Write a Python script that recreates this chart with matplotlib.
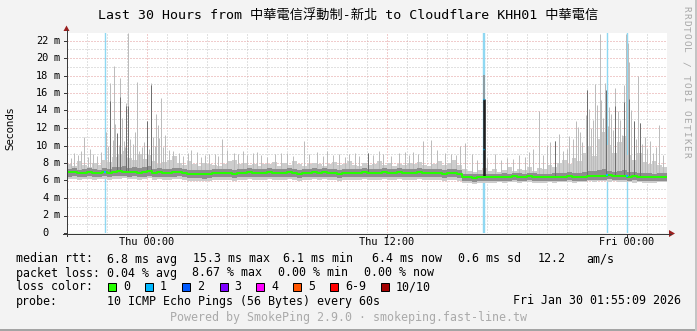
import matplotlib
matplotlib.use('Agg')
import matplotlib.pyplot as plt
import numpy as np
from matplotlib.patches import Polygon, Rectangle
from matplotlib.lines import Line2D

# ---------------- data ----------------
step_h = 0.25  # each sample covers 15 minutes, 30 hours shown
median = [6.95,7.0,6.85,6.9,6.95,6.9,6.85,6.95,6.9,7.0,
          7.05,7.0,6.95,7.0,6.9,6.95,7.05,6.9,6.95,6.85,
          6.9,6.95,7.0,6.85,6.8,6.75,6.8,6.7,6.75,6.85,
          6.9,6.85,6.9,6.8,6.85,6.9,6.95,6.9,6.85,6.9,
          6.95,6.9,6.85,6.9,6.95,6.9,6.8,6.85,6.9,6.95,
          6.9,6.95,6.85,6.9,6.8,6.85,6.9,6.85,6.9,6.95,
          6.9,6.85,6.9,6.95,6.85,6.9,6.95,6.9,6.85,6.9,
          6.95,6.9,6.85,6.9,6.85,6.8,6.85,6.9,6.8,6.4,
          6.35,6.3,6.35,6.4,6.4,6.35,6.4,6.45,6.4,6.5,
          6.45,6.4,6.5,6.45,6.4,6.35,6.4,6.45,6.4,6.45,
          6.5,6.45,6.4,6.45,6.5,6.55,6.5,6.55,6.6,6.5,
          6.55,6.5,6.45,6.5,6.4,6.45,6.4,6.35,6.4,6.45]
smoke_lo = [6.15,6.2,6.1,6.2,6.15,6.1,6.2,6.15,6.1,6.2,
            6.2,6.25,6.15,6.2,6.1,6.15,6.25,6.1,6.15,6.05,
            6.1,6.15,6.2,6.05,6.0,5.95,6.0,5.9,5.95,6.05,
            6.1,6.05,6.1,6.0,6.05,6.1,6.15,6.1,6.05,6.1,
            6.15,6.1,6.05,6.1,6.15,6.1,6.0,6.05,6.1,6.15,
            6.1,6.15,6.05,6.1,6.0,6.05,6.1,6.05,6.1,6.15,
            6.1,6.05,6.1,6.15,6.05,6.1,6.15,6.1,6.05,6.1,
            6.15,6.1,6.05,6.1,6.05,6.0,6.05,6.1,6.0,5.75,
            5.7,5.65,5.7,5.75,5.7,5.75,5.8,5.75,5.85,5.8,
            5.75,5.85,5.8,5.75,5.7,5.75,5.8,5.75,5.8,5.85,
            5.8,5.75,5.8,5.85,5.9,5.85,5.9,5.95,5.85,5.9,
            5.85,5.8,5.85,5.75,5.8,5.75,5.7,5.75,5.8,5.8]
smoke_hi = [7.9,7.7,8.2,7.8,7.6,8.0,7.8,8.3,8.1,8.7,
            9.0,9.4,8.6,8.3,9.0,8.5,8.9,8.2,7.9,8.1,
            8.4,8.8,8.0,7.8,8.2,7.9,7.7,8.0,7.9,7.8,
            7.7,7.9,8.2,8.4,7.9,8.0,7.8,7.9,7.7,7.9,
            7.9,8.1,7.7,8.0,7.8,8.2,7.9,7.7,7.9,8.0,
            7.9,7.7,7.9,8.1,7.8,7.9,8.2,7.8,7.7,8.0,
            7.8,7.9,8.2,7.8,8.0,7.7,7.9,7.8,8.0,7.9,
            8.1,7.8,7.7,7.9,8.2,7.8,8.0,8.3,7.8,7.3,
            7.1,7.0,7.2,7.4,7.1,7.3,7.0,7.2,7.5,7.1,
            7.3,7.2,7.6,7.1,7.4,7.3,7.8,7.5,8.0,8.3,
            7.9,8.6,8.2,9.2,10.0,8.8,10.8,11.6,10.1,9.1,
            10.4,11.1,8.9,8.4,9.2,8.1,7.9,8.2,7.8,7.6]
dark_lo = [6.45,6.5,6.4,6.45,6.5,6.4,6.4,6.5,6.45,6.5,
           6.55,6.5,6.45,6.5,6.4,6.45,6.55,6.4,6.45,6.35,
           6.4,6.45,6.5,6.35,6.3,6.25,6.3,6.2,6.25,6.35,
           6.4,6.35,6.4,6.3,6.35,6.4,6.45,6.4,6.35,6.4,
           6.45,6.4,6.35,6.4,6.45,6.4,6.3,6.35,6.4,6.45,
           6.4,6.45,6.35,6.4,6.3,6.35,6.4,6.35,6.4,6.45,
           6.4,6.35,6.4,6.45,6.35,6.4,6.45,6.4,6.35,6.4,
           6.45,6.4,6.35,6.4,6.35,6.3,6.35,6.4,6.3,5.95,
           5.9,5.85,5.9,5.95,5.95,5.9,5.95,6.0,5.95,6.05,
           6.0,5.95,6.05,6.0,5.95,5.9,5.95,6.0,5.95,6.0,
           6.05,6.0,5.95,6.0,6.05,6.1,6.05,6.1,6.15,6.05,
           6.1,6.05,6.0,6.05,5.95,6.0,5.95,5.9,5.95,6.0]
dark_hi = [7.35,7.4,7.25,7.3,7.4,7.3,7.25,7.4,7.35,7.5,
           7.6,7.7,7.45,7.5,7.4,7.5,7.65,7.35,7.4,7.3,
           7.35,7.4,7.45,7.3,7.25,7.2,7.25,7.15,7.2,7.3,
           7.3,7.3,7.35,7.25,7.3,7.35,7.4,7.3,7.3,7.35,
           7.4,7.35,7.3,7.35,7.4,7.35,7.25,7.3,7.35,7.4,
           7.35,7.4,7.3,7.35,7.25,7.3,7.35,7.3,7.35,7.4,
           7.35,7.3,7.35,7.4,7.3,7.35,7.4,7.35,7.3,7.35,
           7.4,7.35,7.3,7.35,7.3,7.25,7.3,7.35,7.25,6.8,
           6.75,6.7,6.75,6.8,6.8,6.75,6.8,6.85,6.8,6.9,
           6.85,6.8,6.9,6.85,6.8,6.75,6.8,6.9,6.85,6.9,
           6.95,6.9,6.85,6.95,7.1,7.05,7.2,7.3,7.1,6.95,
           7.1,7.2,6.95,6.95,6.85,6.9,6.85,6.8,6.85,6.9]

# single-ping outliers (hour from start, ms)
light_spike_hours = [0.2,0.35,0.55,0.7,0.87,1.05,1.15,1.3,1.5,1.7,1.97,2.05,2.17,2.3,2.37,
                     2.42,2.5,2.6,2.67,2.75,2.85,2.9,2.97,3.05,3.15,3.3,3.4,3.52,3.6,3.75,
                     3.85,4.0,4.1,4.22,4.3,4.4,4.45,4.53,4.6,4.72,4.8,4.9,5.1,5.3,5.6,5.8,
                     6.05,6.2,6.5,6.7,6.9,7.1,7.4,7.55,7.75,8.0,8.35,8.55,8.8,9.0,9.28,9.5,
                     9.7,10.0,10.4,10.7,11.0,11.3,11.87,12.1,12.5,12.8,13.0,13.3,13.6,13.9,
                     14.1,14.4,14.6,15.05,15.3,15.6,15.8,16.2,16.6,16.9,17.1,17.3,17.55,
                     17.8,18.2,18.5,18.9,19.2,19.45,19.67,19.9,20.25,20.5,21.0,21.4,21.7,
                     22.0,22.3,22.6,22.9,23.1,23.3,23.6,23.8,24.0,24.15,24.4,24.6,24.8,
                     25.0,25.1,25.3,25.45,25.55,25.65,25.75,25.93,26.0,26.1,26.2,26.3,26.4,
                     26.5,26.65,26.7,26.8,26.9,27.05,27.1,27.2,27.3,27.4,27.55,27.65,27.75,
                     27.85,27.97,28.05,28.1,28.2,28.35,28.45,28.55,28.65,28.75,28.9,29.0,
                     29.15,29.3,29.45,29.6,29.8]
light_spike_ms = [8.6,9.1,8.9,9.4,11.0,8.7,9.6,9.0,8.8,9.3,11.6,9.9,17.1,10.6,19.1,
                  12.5,11.3,10.1,17.7,13.2,10.5,9.8,14.9,22.9,10.8,10.2,11.6,17.3,9.4,9.8,
                  10.4,12.8,9.6,17.1,11.0,10.0,13.6,12.4,10.9,15.4,9.8,11.2,9.5,9.4,9.2,8.8,
                  9.1,9.5,9.3,8.7,8.9,9.0,9.0,8.8,10.7,9.5,9.2,9.0,9.4,8.9,9.2,9.3,
                  8.9,8.7,9.0,9.1,9.1,8.8,10.5,9.0,9.3,8.8,9.4,8.9,9.0,8.7,
                  9.0,9.2,8.8,9.1,8.9,9.4,9.0,8.8,9.1,9.3,8.9,9.3,9.0,
                  10.5,10.6,9.5,9.2,9.0,8.9,10.0,10.3,9.0,8.4,8.6,9.0,8.3,
                  8.6,8.5,8.9,8.7,9.3,9.6,13.9,8.9,10.1,10.4,10.5,11.3,9.4,
                  9.6,11.1,10.8,12.8,12.1,11.5,10.4,13.5,16.3,14.2,12.0,12.9,17.0,
                  14.6,22.8,15.2,13.1,17.1,12.2,14.4,13.6,11.8,16.6,13.9,12.9,11.2,
                  16.9,22.7,21.7,19.6,14.1,12.8,10.8,17.9,12.6,10.2,11.0,9.6,
                  10.5,9.1,9.8,12.4,8.9]
dark_spike_hours = [2.17,2.5,2.67,2.97,3.05,4.0,4.22,15.05,24.4,26.0,26.95,27.4,27.85,28.12,28.35,28.65]
dark_spike_ms = [15.1,11.4,15.6,14.5,14.5,12.8,16.9,9.1,10.5,16.3,16.4,14.5,15.0,15.3,12.8,12.6]

# loss events (1 of 10 pings lost)
loss_hours = [1.92, 20.80, 20.86, 27.0, 27.98]
burst_hour = [20.83]
burst_mid = [9.6]
burst_median = [15.3]
burst_top = [18.1]

loss_labels = ['0', '1', '2', '3', '4', '5', '6-9', '10/10']
loss_colors = ['#26ff00', '#00b8ff', '#0059ff', '#7e00ff', '#ff00ff', '#ff5500', '#ff0000', '#a10000']

yticks_ms = [0, 2, 4, 6, 8, 10, 12, 14, 16, 18, 20, 22]
xtick_hours = [4, 16, 28]
xtick_labels = ['Thu 00:00', 'Thu 12:00', 'Fri 00:00']

title = 'Last 30 Hours from 中華電信浮動制-新北 to Cloudflare KHH01 中華電信'

# ---------------- figure ----------------
W, H = 697, 331
fig = plt.figure(figsize=(W / 100, H / 100), dpi=100)
fig.patch.set_facecolor('#f3f3f3')

def fx(x):
    return x / W

def fy(y):
    return 1 - y / H

PX = 0.72  # one pixel in points
L, T, PW, PH = 67, 33, 600, 200
YMAX = 200 / 8.75
ax = fig.add_axes([fx(L), fy(T + PH), PW / W, PH / H])
ax.set_xlim(0, 30)
ax.set_ylim(0, YMAX)
ax.set_facecolor('white')
for s in ax.spines.values():
    s.set_visible(False)
ax.set_xticks([])
ax.set_yticks([])

dots = (0, (1, 2))
# grid
for h in range(1, 30):
    if h in xtick_hours:
        continue
    ax.axvline(h, color='#c4c4c4', lw=PX, ls=dots, zorder=1)
for v in range(1, 23):
    if v % 2 == 0:
        continue
    ax.axhline(v, color='#c4c4c4', lw=PX, ls=dots, zorder=1)
for h in xtick_hours:
    ax.axvline(h, color='#e39a9a', lw=PX, ls=dots, zorder=1.1)
for v in yticks_ms[1:]:
    ax.axhline(v, color='#e39a9a', lw=PX, ls=dots, zorder=1.1)

# loss lines (behind smoke)
for h in loss_hours:
    ax.axvline(h, color='#8fd8f2', lw=1.4 * PX, zorder=1.5)

n = len(median)
edges = np.arange(n + 1) * step_h
med = np.asarray(median)
idx_of = lambda h: min(int(h / step_h), n - 1)

def ext(a):
    a = list(a)
    return np.array(a + [a[-1]])

# smoke bands
ax.fill_between(edges, ext(smoke_lo), ext(smoke_hi), step='post', color='#cdcdcd', lw=0, zorder=2.2)
# light spikes
ax.vlines(light_spike_hours, [med[idx_of(h)] for h in light_spike_hours], light_spike_ms,
          colors='#bcbcbc', lw=PX, zorder=2.3)
ax.fill_between(edges, ext(dark_lo), ext(dark_hi), step='post', color='#8e8e8e', lw=0, zorder=2.4)

# dark spikes
ax.vlines(dark_spike_hours, [med[idx_of(h)] for h in dark_spike_hours], dark_spike_ms,
          colors='#6f6f6f', lw=PX, zorder=2.6)

# burst with loss
for h, mid, mdn, top in zip(burst_hour, burst_mid, burst_median, burst_top):
    base = med[idx_of(h)]
    ax.vlines([h], [mdn], [top], colors='#8a8a8a', lw=1.5 * PX, zorder=2.7)
    ax.vlines([h], [base], [mdn], colors='#1e1e1e', lw=2.6 * PX, zorder=2.8)
    for v in (mid, mdn):
        ax.plot([h - 0.03, h + 0.03], [v, v], color='#00b8ff', lw=1.4 * PX, zorder=3.2,
                solid_capstyle='butt')

# median line
ax.step(edges, ext(median), where='post', color='#26ff00', lw=2.0 * PX, zorder=3)
for h in loss_hours:
    if any(abs(h - b) < 0.1 for b in burst_hour):
        continue
    m = med[idx_of(h)]
    ax.plot([h - 0.05, h + 0.05], [m, m], color='#00b8ff', lw=2.0 * PX, zorder=3.1,
            solid_capstyle='butt')

# axes lines and arrows
def fig_line(xs, ys, **kw):
    fig.add_artist(Line2D([fx(x) for x in xs], [fy(y) for y in ys], transform=fig.transFigure, **kw))

def fig_poly(pts, color):
    fig.add_artist(Polygon([(fx(x), fy(y)) for x, y in pts], closed=True, transform=fig.transFigure,
                           facecolor=color, edgecolor='none'))

axis_c = '#3a3a3a'
fig_line([66.5, 66.5], [236, 30], color=axis_c, lw=1.0 * PX)
fig_line([63, 671], [233.5, 233.5], color=axis_c, lw=1.0 * PX)
fig_poly([(63.5, 31), (69.5, 31), (66.5, 25.5)], '#9a1f1f')
fig_poly([(669, 230), (669, 237), (675, 233.5)], '#9a1f1f')
for v in yticks_ms:
    yy = T + PH - v * 8.75
    fig_line([63.5, 66.5], [yy, yy], color=axis_c, lw=PX)
for h in xtick_hours:
    xx = L + h * 20
    fig_line([xx, xx], [233.5, 236.5], color=axis_c, lw=PX)

mono = 'DejaVu Sans Mono'
# y tick labels
for v in yticks_ms:
    yy = T + PH - v * 8.75
    fig.text(fx(48.5), fy(yy), str(v), ha='right', va='center', family=mono, fontsize=7.4)
    if v != 0:
        fig.text(fx(54), fy(yy), 'm', ha='left', va='center', family=mono, fontsize=7.4)
# x tick labels
for h, lab in zip(xtick_hours, xtick_labels):
    fig.text(fx(L + h * 20), fy(242), lab, ha='center', va='center', family=mono, fontsize=7.4)

fig.text(fx(10), fy(128.5), 'Seconds', rotation=90, ha='center', va='center',
         family='DejaVu Sans', fontsize=7.4)

# title
fig.text(fx(348), fy(16), title, ha='center', va='center',
         family=[mono, 'Noto Sans CJK TC'], fontsize=9.5)

# watermark on the right
wm = 'RRDTOOL / TOBI OETIKER'
for i, ch in enumerate(wm):
    fig.text(fx(685.5), fy(8.5 + i * 6.95), ch, rotation=-90, ha='center', va='center',
             family=mono, fontsize=6.8, color='#a8a8a8')

# legend
fs = 8.4
rows = [259, 273, 287, 301]
def ltxt(x, y, s, **kw):
    fig.text(fx(x), fy(y), s, ha=kw.pop('ha', 'left'), va='center', family=mono, fontsize=fs, **kw)

ltxt(16, rows[0], 'median rtt:')
for x, s in zip([107, 193, 283, 372, 458.5, 537.5, 586.5],
                ['6.8 ms avg', '15.3 ms max', '6.1 ms min', '6.4 ms now', '0.6 ms sd', '12.2', 'am/s']):
    ltxt(x, rows[0], s)
ltxt(16, rows[1], 'packet loss:')
for x, s in zip([107, 192.5, 278.5, 364.5],
                ['0.04 % avg', '8.67 % max', '0.00 % min', '0.00 % now']):
    ltxt(x, rows[1], s)
ltxt(16, rows[2], 'loss color:')
box_x = [108, 145, 182, 219.5, 256, 293, 330, 381]
for bx, lab, col in zip(box_x, loss_labels, loss_colors):
    fig.add_artist(Rectangle((fx(bx), fy(rows[2] + 4)), 8 / W, 8 / H, transform=fig.transFigure,
                             facecolor=col, edgecolor='black', lw=PX))
    ltxt(bx + 15, rows[2], lab)
ltxt(16, rows[3], 'probe:')
ltxt(107, rows[3], '10 ICMP Echo Pings (56 Bytes) every 60s')
ltxt(681, rows[3], 'Fri Jan 30 01:55:09 2026', ha='right')
fig.text(fx(348.5), fy(318), 'Powered by SmokePing 2.9.0 · smokeping.fast-line.tw', ha='center',
         va='center', family=mono, fontsize=fs, color='#aaaaaa')

# frame shading
fig_line([0, 697], [330, 330], color='#a4a4a4', lw=2 * PX)
fig_line([696, 696], [0, 331], color='#c4c4c4', lw=2 * PX)

fig.savefig('out.png', dpi=100, facecolor=fig.get_facecolor())
